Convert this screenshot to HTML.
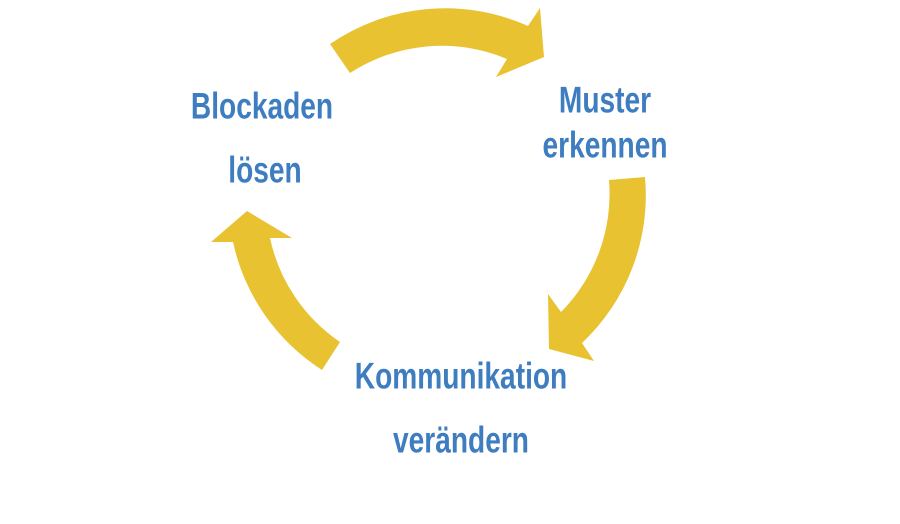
<!DOCTYPE html>
<html><head><meta charset="utf-8"><style>
html,body{margin:0;padding:0;background:#fff;}
.w{position:relative;width:900px;height:524px;overflow:hidden;}
.t{position:absolute;font-family:"Liberation Sans",sans-serif;font-weight:bold;font-size:37px;color:#3E7DC0;transform:translate(-50%,-50%) scaleX(0.76);white-space:nowrap;line-height:1;}
</style></head><body><div class="w">
<svg width="900" height="524" style="position:absolute;left:0;top:0">
<g fill="#E9C232">
<path d="M330,44 A203,203 0 0 1 528,26 L540,8 L544,57 L496,77 L507,59 A168,168 0 0 0 350,73 Z"/>
<path d="M645,177 A203,203 0 0 1 582,343 L594,361 L549,349 L548,294 L561,312 A168,168 0 0 0 609,180 Z"/>
<path d="M322,370 A203,203 0 0 1 233,242 L211,242 L247,211 L292,238 L270,238 A168,168 0 0 0 340,342 Z"/>
</g></svg>
<div class="t" style="left:262px;top:106px">Blockaden</div>
<div class="t" style="left:265px;top:170px">lösen</div>
<div class="t" style="left:605px;top:100px">Muster</div>
<div class="t" style="left:605px;top:145px">erkennen</div>
<div class="t" style="left:461px;top:376px">Kommunikation</div>
<div class="t" style="left:461px;top:440px">verändern</div>
</div></body></html>
